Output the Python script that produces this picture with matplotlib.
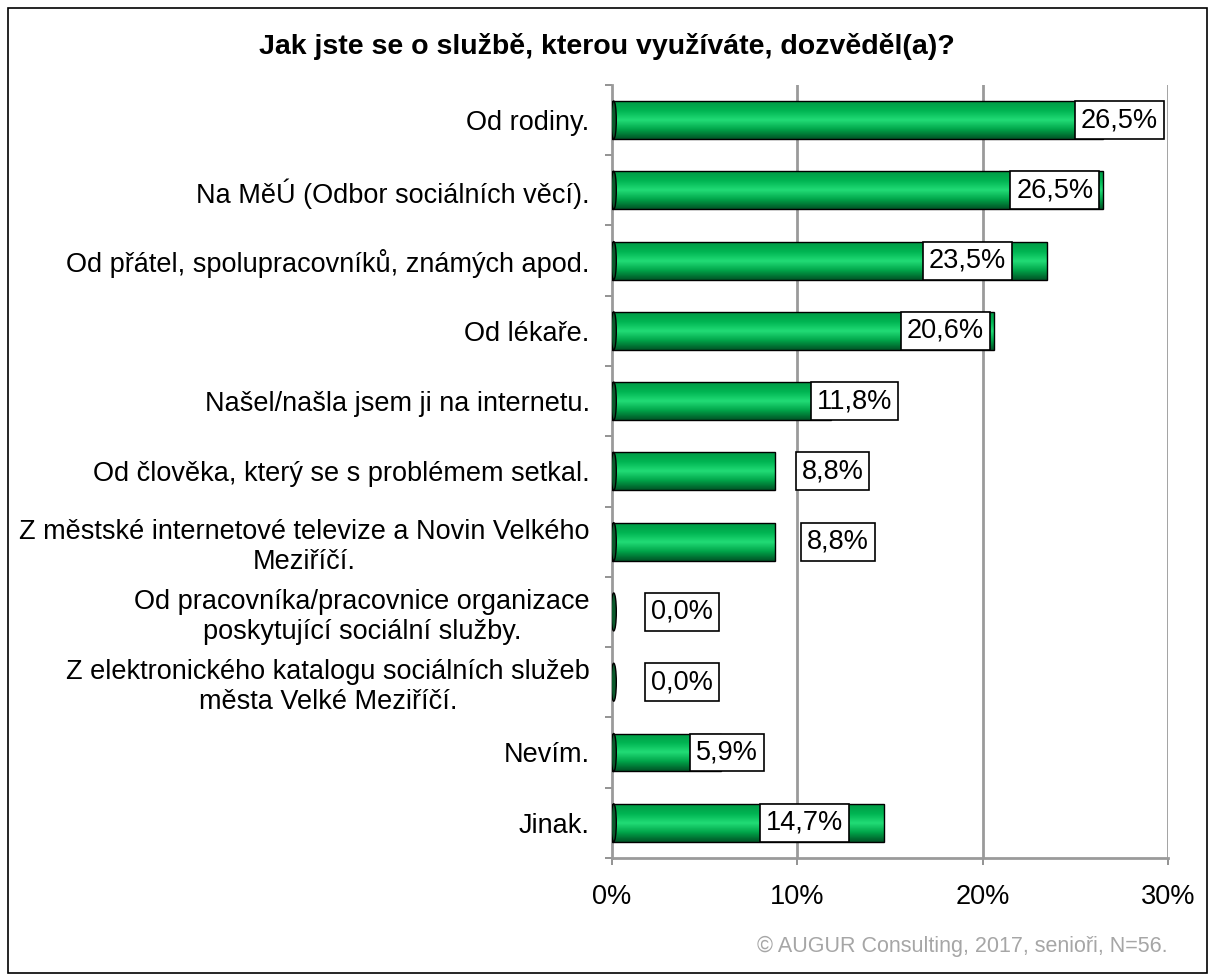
import matplotlib.pyplot as plt
import numpy as np
from matplotlib.colors import LinearSegmentedColormap
from matplotlib.patches import Rectangle, Ellipse

plt.rcParams['font.family'] = ['Liberation Sans', 'DejaVu Sans']

categories = [
    "Od rodiny.",
    "Na MěÚ (Odbor sociálních věcí).",
    "Od přátel, spolupracovníků, známých apod.",
    "Od lékaře.",
    "Našel/našla jsem ji na internetu.",
    "Od člověka, který se s problémem setkal.",
    "Z městské internetové televize a Novin Velkého\nMeziříčí.",
    "Od pracovníka/pracovnice organizace\nposkytující sociální služby.",
    "Z elektronického katalogu sociálních služeb\nměsta Velké Meziříčí.",
    "Nevím.",
    "Jinak.",
]
values = [26.5, 26.5, 23.5, 20.6, 11.8, 8.8, 8.8, 0.0, 0.0, 5.9, 14.7]
value_labels = ["26,5%", "26,5%", "23,5%", "20,6%", "11,8%", "8,8%", "8,8%",
                "0,0%", "0,0%", "5,9%", "14,7%"]
# where Excel put the label boxes, relative to the bar end (layout only)
label_shift = [0.9, -2.6, -4.3, -2.6, 1.3, 3.1, 3.4, 3.8, 3.8, 0.3, -4.3]
x_ticks = [0, 10, 20, 30]
x_tick_labels = ["0%", "10%", "20%", "30%"]

title = "Jak jste se o službě, kterou využíváte, dozvěděl(a)?"
footer = "© AUGUR Consulting, 2017, senioři, N=56."

fig = plt.figure(figsize=(12.14, 9.76), dpi=100)
ax = fig.add_axes([0.504, 0.121, 0.458, 0.792])

# rámeček kolem celého obrázku
fig.patches.append(Rectangle((0.007, 0.003), 0.987, 0.989, transform=fig.transFigure,
                             fill=False, edgecolor='black', linewidth=1.2))

green = LinearSegmentedColormap.from_list(
    'bar', ['#009a46', '#00b552', '#22dc76', '#00a449', '#005426'])
grad = np.linspace(0, 1, 64).reshape(-1, 1)

h = 0.54
for i, v in enumerate(values):
    y0, y1 = i - h / 2, i + h / 2
    if v > 0:
        rect = Rectangle((0, y0), v, h, facecolor='none', edgecolor='black',
                         linewidth=1.0, zorder=3)
        ax.add_patch(rect)
        im = ax.imshow(grad, cmap=green, aspect='auto', extent=[0, v, y1, y0],
                       zorder=2, interpolation='bilinear')
        im.set_clip_path(rect)
    ax.add_patch(Ellipse((0.1, i), 0.28, h, facecolor='#0b5a2c',
                         edgecolor='black', linewidth=1.0, zorder=4))
    ax.text(v + label_shift[i], i, value_labels[i], ha='center', va='center',
            fontsize=19.5, zorder=6,
            bbox=dict(boxstyle='square,pad=0.22', facecolor='white',
                      edgecolor='black', linewidth=1.2))

ax.set_xlim(0, 30)
ax.set_ylim(len(categories) - 0.5, -0.5)

for x in x_ticks[1:]:
    ax.axvline(x, color='#9a9a9a', linewidth=2, zorder=1)

ax.set_xticks(x_ticks)
ax.set_xticklabels(x_tick_labels, fontsize=19.5)
ax.set_yticks(np.arange(-0.5, len(categories), 1))
ax.set_yticklabels([])
ax.set_yticks(np.arange(len(categories)), minor=True)
ax.set_yticklabels(categories, minor=True, fontsize=19.5, multialignment='center')
ax.tick_params(axis='y', which='major', length=5, color='#808080', width=1.2)
ax.tick_params(axis='y', which='minor', length=0, pad=16)
ax.tick_params(axis='x', length=5, color='#808080', width=1.2, pad=14)

for s in ['top', 'right']:
    ax.spines[s].set_visible(False)
for s in ['left', 'bottom']:
    ax.spines[s].set_color('#9a9a9a')
    ax.spines[s].set_linewidth(2)

fig.text(0.5, 0.952, title, ha='center', va='center', fontsize=20.5, fontweight='bold')
fig.text(0.962, 0.03, footer, ha='right', va='center', fontsize=15.5, color='#a6a6a6')

fig.savefig('out.png', dpi=100)
